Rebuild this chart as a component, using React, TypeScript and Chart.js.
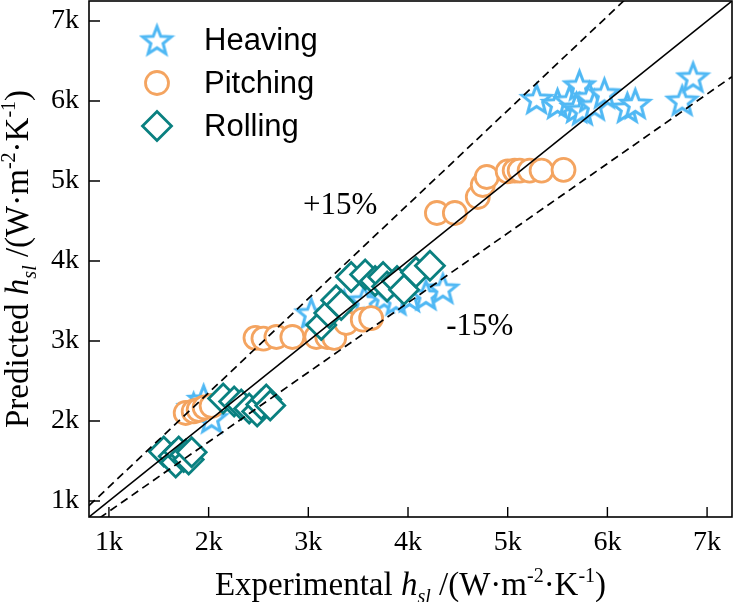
import { useEffect, useRef } from 'react';
import { Chart, registerables } from 'chart.js';

Chart.register(...registerables);

// Heaving runs
const heavingX = [5290, 5500, 5620, 5720, 5690, 5750, 5820, 5870, 5970, 6200, 6280, 6750, 6860, 3030, 3360, 3560, 3760, 3880, 4015, 4180, 4350, 1850, 1950, 2030];
const heavingY = [6030, 5970, 6010, 6200, 5920, 5890, 6050, 5950, 6100, 5920, 5970, 6010, 6300, 3350, 3450, 3510, 3550, 3515, 3556, 3580, 3660, 2170, 2270, 2040];

// Pitching runs
const pitchingX = [1770, 1850, 1900, 1960, 2030, 2470, 2550, 2680, 2840, 3080, 3190, 3260, 3380, 3546, 3630, 4290, 4470, 4700, 4750, 4790, 5000, 5070, 5120, 5220, 5340, 5560];
const pitchingY = [2100, 2120, 2140, 2170, 2190, 3040, 3030, 3050, 3050, 3050, 3050, 3040, 3225, 3266, 3287, 4600, 4600, 4800, 4950, 5050, 5120, 5130, 5130, 5130, 5130, 5140];

// Rolling runs
const rollingX = [1550, 1650, 1670, 1700, 1750, 1770, 1800, 1830, 2146, 2256, 2327, 2407, 2487, 2528, 2578, 2618, 3130, 3210, 3280, 3330, 3430, 3570, 3670, 3750, 3790, 3890, 3960, 4080, 4220];
const rollingY = [1620, 1560, 1480, 1620, 1550, 1580, 1520, 1610, 2281, 2243, 2206, 2156, 2118, 2206, 2268, 2193, 3200, 3350, 3510, 3450, 3800, 3830, 3750, 3800, 3680, 3750, 3640, 3860, 3940];

const seriesNames = ['Heaving', 'Pitching', 'Rolling'];
const seriesColors = ['#4fb8f4', '#f4a460', '#0a8080'];

const tickValues = [1000, 2000, 3000, 4000, 5000, 6000, 7000];
const axisMin = 800;
const axisMax = 7250;

// ±15 % error band: predicted = experimental / (1 ∓ 0.15)
const upperFactor = 1 / 0.85;
const lowerFactor = 1 / 1.15;
const lineX = [axisMin, axisMax];

const bandLabels = ['+15%', '-15%'];
const bandLabelX = [3320, 4720];
const bandLabelY = [4690, 3180];

type Run = { t: string; it?: boolean; pos?: 'sub' | 'sup' };
const xTitle: Run[] = [
  { t: 'Experimental ' }, { t: 'h', it: true }, { t: 'sl', it: true, pos: 'sub' },
  { t: ' /(W·m' }, { t: '-2', pos: 'sup' }, { t: '·K' }, { t: '-1', pos: 'sup' }, { t: ')' },
];
const yTitle: Run[] = [
  { t: 'Predicted ' }, { t: 'h', it: true }, { t: 'sl', it: true, pos: 'sub' },
  { t: ' /(W·m' }, { t: '-2', pos: 'sup' }, { t: '·K' }, { t: '-1', pos: 'sup' }, { t: ')' },
];

const SERIF = '"Liberation Serif", "Times New Roman", serif';
const SANS = '"Liberation Sans", Arial, sans-serif';

function makeStar(color: string, R: number, r: number, lw: number) {
  const size = Math.ceil(2 * R + lw + 4);
  const c = document.createElement('canvas');
  c.width = size;
  c.height = size;
  const g = c.getContext('2d')!;
  g.translate(size / 2, size / 2 + R * 0.1);
  g.beginPath();
  for (let i = 0; i < 10; i++) {
    const rad = i % 2 === 0 ? R : r;
    const a = -Math.PI / 2 + (i * Math.PI) / 5;
    g.lineTo(rad * Math.cos(a), rad * Math.sin(a));
  }
  g.closePath();
  g.fillStyle = '#ffffff';
  g.fill();
  g.strokeStyle = color;
  g.lineWidth = lw;
  g.lineJoin = 'miter';
  g.stroke();
  return c;
}

function drawRich(ctx: CanvasRenderingContext2D, runs: Run[], cx: number, baseY: number, size: number) {
  const fontFor = (r: Run) => `${r.it ? 'italic ' : ''}${r.pos ? Math.round(size * 0.62) : size}px ${SERIF}`;
  const widths = runs.map((r) => {
    ctx.font = fontFor(r);
    return ctx.measureText(r.t).width;
  });
  const total = widths.reduce((s, w) => s + w, 0);
  let x = cx - total / 2;
  ctx.textAlign = 'left';
  ctx.textBaseline = 'alphabetic';
  runs.forEach((r, i) => {
    ctx.font = fontFor(r);
    const dy = r.pos === 'sub' ? size * 0.24 : r.pos === 'sup' ? -size * 0.38 : 0;
    ctx.fillText(r.t, x, baseY + dy);
    x += widths[i];
  });
}

export default function App() {
  const ref = useRef<HTMLCanvasElement>(null);

  useEffect(() => {
    const canvas = ref.current;
    if (!canvas) return;
    const star = makeStar(seriesColors[0], 15, 6.4, 3);

    const toPts = (xs: number[], ys: number[]) => xs.map((v, i) => ({ x: v, y: ys[i] }));

    const decorations = {
      id: 'decorations',
      afterDraw(chart: any) {
        const { ctx, chartArea: a, scales } = chart;
        const xs = scales.x;
        const ys = scales.y;
        ctx.save();
        ctx.strokeStyle = '#000';
        ctx.lineWidth = 1.6;
        ctx.strokeRect(a.left, a.top, a.right - a.left, a.bottom - a.top);
        ctx.lineWidth = 1.4;
        ctx.beginPath();
        tickValues.forEach((v) => {
          const px = xs.getPixelForValue(v);
          ctx.moveTo(px, a.bottom);
          ctx.lineTo(px, a.bottom - 10);
          const py = ys.getPixelForValue(v);
          ctx.moveTo(a.left, py);
          ctx.lineTo(a.left + 11, py);
        });
        ctx.stroke();

        // band labels
        ctx.fillStyle = '#000';
        ctx.font = `31px ${SERIF}`;
        ctx.textAlign = 'center';
        ctx.textBaseline = 'middle';
        bandLabels.forEach((t, i) => {
          ctx.fillText(t, xs.getPixelForValue(bandLabelX[i]), ys.getPixelForValue(bandLabelY[i]));
        });

        // axis titles
        drawRich(ctx, xTitle, (a.left + a.right) / 2, 595, 33);
        ctx.save();
        ctx.translate(28, (a.top + a.bottom) / 2);
        ctx.rotate(-Math.PI / 2);
        drawRich(ctx, yTitle, 0, 0, 33);
        ctx.restore();

        // legend
        const lx = a.left + 68;
        const ly0 = a.top + 39;
        const gap = 43;
        ctx.drawImage(star, lx - star.width / 2, ly0 - star.height / 2);
        ctx.lineWidth = 2.8;
        ctx.strokeStyle = seriesColors[1];
        ctx.fillStyle = '#fff';
        ctx.beginPath();
        ctx.arc(lx, ly0 + gap, 11.5, 0, Math.PI * 2);
        ctx.fill();
        ctx.stroke();
        ctx.strokeStyle = seriesColors[2];
        ctx.beginPath();
        const dy = ly0 + 2 * gap;
        ctx.moveTo(lx - 14.5, dy);
        ctx.lineTo(lx, dy - 14.5);
        ctx.lineTo(lx + 14.5, dy);
        ctx.lineTo(lx, dy + 14.5);
        ctx.closePath();
        ctx.fill();
        ctx.stroke();
        ctx.fillStyle = '#000';
        ctx.font = `31px ${SANS}`;
        ctx.textAlign = 'left';
        ctx.textBaseline = 'middle';
        seriesNames.forEach((n, i) => ctx.fillText(n, lx + 47, ly0 + i * gap + 1));
        ctx.restore();
      },
    };

    const chart = new Chart(canvas, {
      type: 'scatter',
      data: {
        datasets: [
          {
            label: 'y = x',
            data: toPts(lineX, lineX),
            showLine: true,
            borderColor: '#000',
            borderWidth: 1.6,
            pointRadius: 0,
            order: 0,
          },
          {
            label: '+15%',
            data: toPts(lineX, lineX.map((v) => v * upperFactor)),
            showLine: true,
            borderColor: '#000',
            borderWidth: 1.7,
            borderDash: [8, 5],
            pointRadius: 0,
            order: 0,
          },
          {
            label: '-15%',
            data: toPts(lineX, lineX.map((v) => v * lowerFactor)),
            showLine: true,
            borderColor: '#000',
            borderWidth: 1.7,
            borderDash: [8, 5],
            pointRadius: 0,
            order: 0,
          },
          {
            label: seriesNames[2],
            data: toPts(rollingX, rollingY),
            pointStyle: 'rectRot',
            pointRadius: 14.5,
            pointBorderWidth: 2.8,
            pointBorderColor: seriesColors[2],
            pointBackgroundColor: '#fff',
            order: 1,
          },
          {
            label: seriesNames[1],
            data: toPts(pitchingX, pitchingY),
            pointStyle: 'circle',
            pointRadius: 11.5,
            pointBorderWidth: 2.8,
            pointBorderColor: seriesColors[1],
            pointBackgroundColor: '#fff',
            order: 2,
          },
          {
            label: seriesNames[0],
            data: toPts(heavingX, heavingY),
            pointStyle: star,
            pointRadius: 15,
            order: 3,
          },
        ],
      },
      options: {
        responsive: false,
        animation: false,
        devicePixelRatio: 1,
        layout: { autoPadding: false, padding: { top: 1, right: 4, left: 0, bottom: 0 } },
        plugins: { legend: { display: false }, tooltip: { enabled: false } },
        scales: {
          x: {
            type: 'linear',
            min: axisMin,
            max: axisMax,
            grid: { display: false, drawTicks: false },
            border: { display: false },
            afterFit: (s: any) => {
              s.height = 85;
              s.paddingLeft = 0;
              s.paddingRight = 0;
            },
            afterBuildTicks: (s: any) => { s.ticks = tickValues.map((v) => ({ value: v })); },
            ticks: {
              padding: 9,
              color: '#000',
              font: { family: SERIF, size: 28 },
              callback: (v: any) => `${Number(v) / 1000}k`,
            },
          },
          y: {
            type: 'linear',
            min: axisMin,
            max: axisMax,
            grid: { display: false, drawTicks: false },
            border: { display: false },
            afterFit: (s: any) => {
              s.width = 89;
              s.paddingTop = 0;
              s.paddingBottom = 0;
            },
            afterBuildTicks: (s: any) => { s.ticks = tickValues.map((v) => ({ value: v })); },
            ticks: {
              padding: 10,
              color: '#000',
              font: { family: SERIF, size: 28 },
              callback: (v: any) => `${Number(v) / 1000}k`,
            },
          },
        },
      },
      plugins: [decorations],
    });

    return () => chart.destroy();
  }, []);

  return (
    <div style={{ position: 'fixed', left: 0, top: 0, width: 736, height: 602, background: '#fff' }}>
      <canvas ref={ref} width={736} height={602} style={{ display: 'block' }} />
    </div>
  );
}
